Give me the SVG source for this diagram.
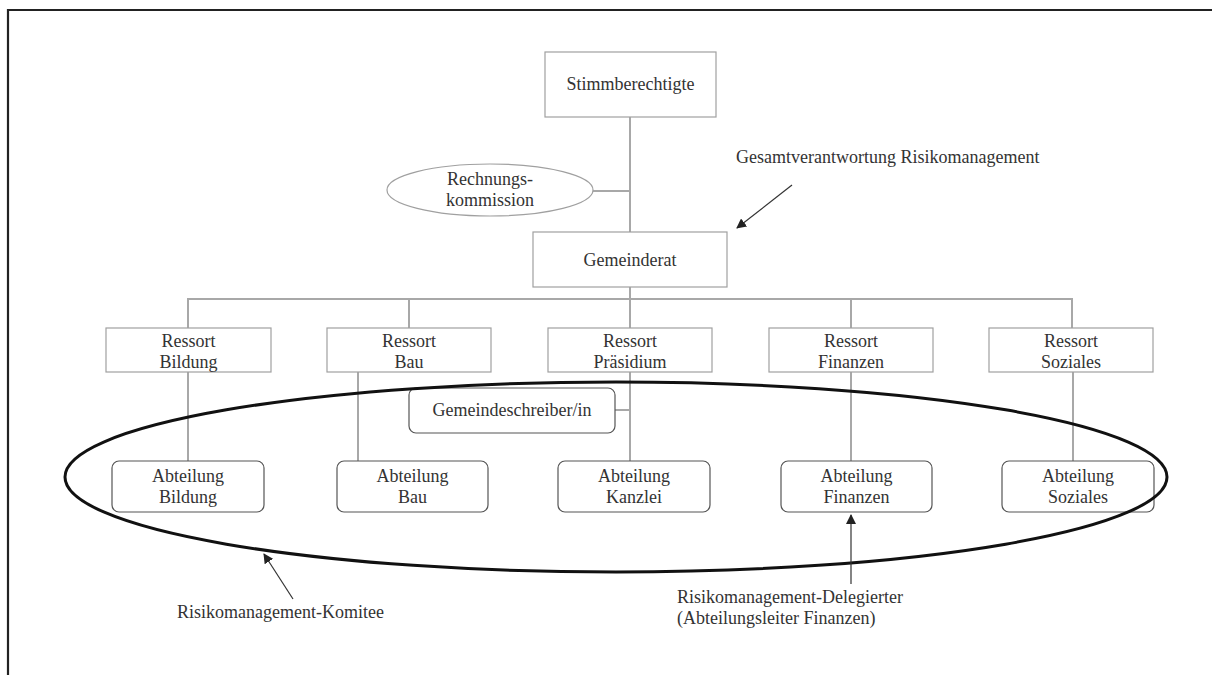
<svg xmlns="http://www.w3.org/2000/svg" width="1212" height="675" viewBox="0 0 1212 675">
  <style>
    text { font-family: "Liberation Serif", "Times New Roman", serif; font-size: 18px; fill: #333; text-anchor: middle; }
    .lbl { text-anchor: start; }
    .box { fill: #fff; stroke: #a0a0a0; stroke-width: 1.2; }
    .rbox { fill: #fff; stroke: #555; stroke-width: 1.2; }
    .conn { fill: none; stroke: #a8a8a8; stroke-width: 2; }
    .ptr { fill: none; stroke: #333; stroke-width: 1.2; }
  </style>
  <defs>
    <marker id="head" viewBox="0 0 10 10" refX="9" refY="5" markerWidth="10" markerHeight="10" markerUnits="userSpaceOnUse" orient="auto">
      <path d="M0,0 L10,5 L0,10 z" fill="#222"/>
    </marker>
  </defs>
  <rect width="1212" height="675" fill="#fff"/>

  <!-- page frame -->
  <path d="M8,675 L8,10 L1212,10" fill="none" stroke="#222" stroke-width="2.2"/>

  <!-- org chart connectors -->
  <g id="connectors">
    <path class="conn" d="M630,117 V232"/>
    <path class="conn" d="M593,191 H630"/>
    <path class="conn" d="M630,287 V328"/>
    <path class="conn" d="M188,328 V299 H1072 V328"/>
    <path class="conn" d="M409,299 V328"/>
    <path class="conn" d="M851,299 V328"/>
    <path class="conn" d="M188,372 V461"/>
    <path class="conn" d="M358,372 V461"/>
    <path class="conn" d="M630,372 V461"/>
    <path class="conn" d="M615,410 H630"/>
    <path class="conn" d="M851,372 V461"/>
    <path class="conn" d="M1073,372 V461"/>
  </g>

  <g id="stimmberechtigte">
    <rect class="box" x="545" y="52" width="171" height="65"/>
    <text x="630.5" y="90">Stimmberechtigte</text>
  </g>
  <g id="rechnungskommission">
    <ellipse cx="490" cy="190" rx="103" ry="26" fill="#fff" stroke="#a0a0a0" stroke-width="1.2"/>
    <text x="490" y="185">Rechnungs-</text>
    <text x="490" y="206">kommission</text>
  </g>
  <g id="gemeinderat">
    <rect class="box" x="533" y="232" width="194" height="55"/>
    <text x="630" y="266">Gemeinderat</text>
  </g>

  <g id="ressort-bildung">
    <rect class="box" x="106" y="328" width="165" height="44"/>
    <text x="188.5" y="347">Ressort</text>
    <text x="188.5" y="368">Bildung</text>
  </g>
  <g id="ressort-bau">
    <rect class="box" x="327" y="328" width="164" height="44"/>
    <text x="409" y="347">Ressort</text>
    <text x="409" y="368">Bau</text>
  </g>
  <g id="ressort-praesidium">
    <rect class="box" x="548" y="328" width="164" height="44"/>
    <text x="630" y="347">Ressort</text>
    <text x="630" y="368">Präsidium</text>
  </g>
  <g id="ressort-finanzen">
    <rect class="box" x="769" y="328" width="164" height="44"/>
    <text x="851" y="347">Ressort</text>
    <text x="851" y="368">Finanzen</text>
  </g>
  <g id="ressort-soziales">
    <rect class="box" x="989" y="328" width="164" height="44"/>
    <text x="1071" y="347">Ressort</text>
    <text x="1071" y="368">Soziales</text>
  </g>

  <g id="gemeindeschreiber">
    <rect class="rbox" x="409" y="388" width="206" height="45" rx="7"/>
    <text x="512" y="416">Gemeindeschreiber/in</text>
  </g>

  <g id="abteilung-bildung">
    <rect class="rbox" x="112" y="461" width="152" height="51" rx="7"/>
    <text x="188" y="482">Abteilung</text>
    <text x="188" y="503">Bildung</text>
  </g>
  <g id="abteilung-bau">
    <rect class="rbox" x="337" y="461" width="151" height="51" rx="7"/>
    <text x="412.5" y="482">Abteilung</text>
    <text x="412.5" y="503">Bau</text>
  </g>
  <g id="abteilung-kanzlei">
    <rect class="rbox" x="558" y="461" width="152" height="51" rx="7"/>
    <text x="634" y="482">Abteilung</text>
    <text x="634" y="503">Kanzlei</text>
  </g>
  <g id="abteilung-finanzen">
    <rect class="rbox" x="781" y="461" width="151" height="51" rx="7"/>
    <text x="856.5" y="482">Abteilung</text>
    <text x="856.5" y="503">Finanzen</text>
  </g>
  <g id="abteilung-soziales">
    <rect class="rbox" x="1002" y="461" width="152" height="51" rx="7"/>
    <text x="1078" y="482">Abteilung</text>
    <text x="1078" y="503">Soziales</text>
  </g>

  <!-- committee outline -->
  <g id="komitee-outline">
    <ellipse cx="616" cy="477" rx="551" ry="95" fill="none" stroke="#111" stroke-width="3"/>
  </g>

  <!-- annotations -->
  <g id="annotation-gesamtverantwortung">
    <text class="lbl" x="736" y="163">Gesamtverantwortung Risikomanagement</text>
    <line class="ptr" x1="792" y1="185" x2="737" y2="228" marker-end="url(#head)"/>
  </g>
  <g id="annotation-komitee">
    <text class="lbl" x="177" y="618">Risikomanagement-Komitee</text>
    <line class="ptr" x1="293" y1="599" x2="264" y2="554" marker-end="url(#head)"/>
  </g>
  <g id="annotation-delegierter">
    <text class="lbl" x="677" y="603">Risikomanagement-Delegierter</text>
    <text class="lbl" x="677" y="624">(Abteilungsleiter Finanzen)</text>
    <line class="ptr" x1="851" y1="584" x2="851" y2="515" marker-end="url(#head)"/>
  </g>
</svg>
